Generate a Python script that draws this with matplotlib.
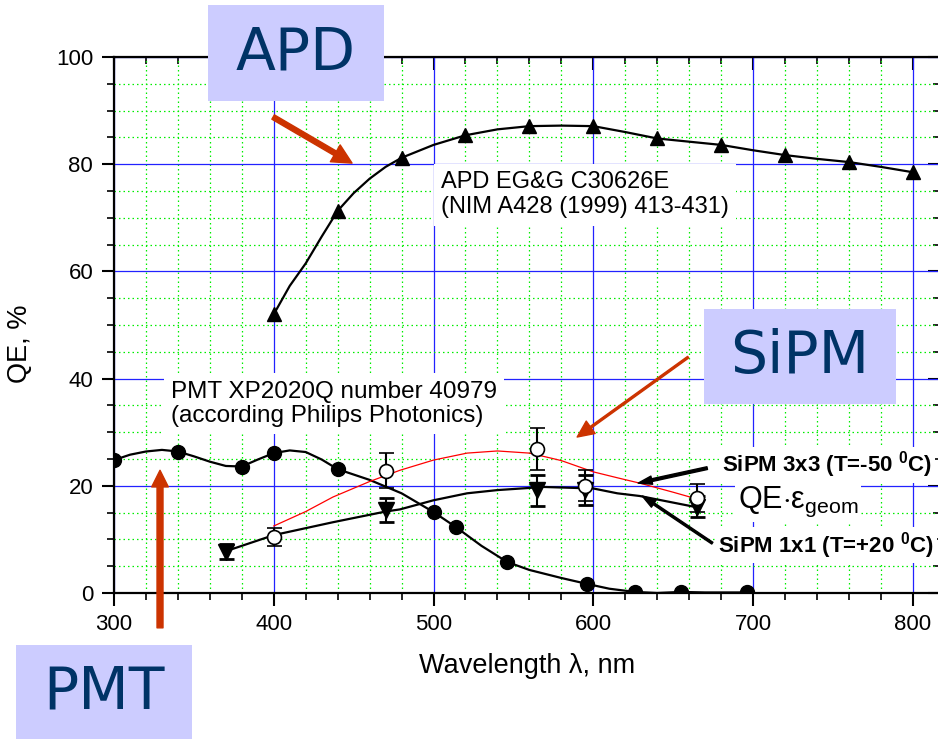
import matplotlib
matplotlib.use("Agg")
import matplotlib.pyplot as plt
from matplotlib.patches import Rectangle
from matplotlib.ticker import MultipleLocator

plt.rcParams["font.family"] = ["Liberation Sans", "DejaVu Sans"]
plt.rcParams["mathtext.fontset"] = "custom"
plt.rcParams["mathtext.rm"] = "Liberation Sans"
plt.rcParams["mathtext.it"] = "Liberation Sans:italic"
plt.rcParams["mathtext.bf"] = "Liberation Sans:bold"

# APD EG&G C30626E
apd_x = [400, 440, 480, 520, 560, 600, 640, 680, 720, 760, 800]
apd_y = [52.0, 71.3, 81.2, 85.4, 87.1, 87.1, 84.8, 83.6, 81.7, 80.4, 78.5]
apd_curve_x = [400, 410, 420, 430, 440, 450, 460, 470, 480, 500, 520, 540, 560,
               580, 600, 620, 640, 660, 680, 700, 720, 740, 760, 780, 800]
apd_curve_y = [52.0, 57.3, 61.5, 66.5, 71.3, 74.6, 77.3, 79.5, 81.2, 83.6, 85.4,
               86.5, 87.1, 87.2, 87.1, 86.0, 84.8, 84.2, 83.6, 82.6, 81.7, 81.0,
               80.4, 79.5, 78.5]

# PMT XP2020Q
pmt_x = [300, 340, 380, 400, 440, 500, 514, 546, 596, 626, 655, 696]
pmt_y = [24.8, 26.3, 23.5, 26.1, 23.1, 15.1, 12.3, 5.8, 1.7, 0.2, 0.2, 0.2]
pmt_curve_x = [300, 310, 320, 330, 340, 350, 360, 370, 380, 390, 400, 410, 420,
               430, 440, 460, 480, 500, 514, 530, 546, 560, 580, 596, 610, 626,
               640, 655, 670, 696]
pmt_curve_y = [24.8, 25.8, 26.4, 26.7, 26.4, 25.5, 24.5, 23.7, 23.6, 24.9, 26.1,
               26.6, 26.3, 24.9, 23.1, 21.1, 18.6, 15.1, 12.3, 8.8, 5.8, 4.3,
               2.8, 1.7, 0.8, 0.2, 0.0, 0.2, 0.1, 0.1]

# SiPM 3x3, T=-50 C
sipm33_x = [400, 470, 565, 595, 665]
sipm33_y = [10.5, 22.8, 26.8, 20.0, 17.7]
sipm33_err = [1.65, 3.3, 3.9, 2.9, 2.6]
sipm33_fit_x = [400, 420, 437, 460, 479, 500, 521, 540, 560, 573, 580, 600,
                615, 629, 650, 663]
sipm33_fit_y = [12.5, 15.2, 17.9, 20.8, 22.9, 24.8, 26.1, 26.5, 26.1, 25.2,
                24.7, 22.6, 21.5, 20.5, 18.8, 17.7]

# SiPM 1x1, T=+20 C
sipm11_x = [370, 470, 565, 595, 665]
sipm11_y = [7.7, 15.5, 19.2, 19.2, 16.1]
sipm11_err = [1.35, 2.3, 2.9, 2.8, 2.0]
sipm11_fit_x = [370, 400, 437, 470, 479, 500, 521, 540, 560, 567, 600, 615,
                629, 663]
sipm11_fit_y = [7.8, 10.8, 13.2, 15.2, 15.6, 17.3, 18.6, 19.2, 19.6, 19.8,
                19.5, 18.6, 18.1, 16.1]

W, H = 938, 739
fig = plt.figure(figsize=(W / 100, H / 100), dpi=100)
ax = fig.add_axes([114 / W, 1 - 593 / H, (940 - 114) / W, (593 - 57) / H])
ax.set_xlim(300, 817)
ax.set_ylim(0, 100)

# grid: blue solid major, green dotted minor
ax.xaxis.set_major_locator(MultipleLocator(100))
ax.xaxis.set_minor_locator(MultipleLocator(20))
ax.yaxis.set_major_locator(MultipleLocator(20))
ax.yaxis.set_minor_locator(MultipleLocator(5))
ax.set_axisbelow(True)
ax.grid(which="minor", color="#00ee00", linestyle=(0, (1.2, 2.4)), linewidth=0.9)
ax.grid(which="major", color="#2222ff", linestyle="-", linewidth=0.9)

for s in ax.spines.values():
    s.set_linewidth(1.6)
ax.tick_params(which="major", direction="out", length=9, width=1.5,
               labelsize=16, pad=6)
ax.tick_params(which="minor", direction="out", length=5, width=1.2)

top = ax.secondary_xaxis("top")
top.xaxis.set_major_locator(MultipleLocator(100))
top.xaxis.set_minor_locator(MultipleLocator(20))
top.tick_params(which="major", direction="in", length=9, width=1.5, labeltop=False)
top.tick_params(which="minor", direction="in", length=5, width=1.2)
right = ax.secondary_yaxis("right")
right.yaxis.set_major_locator(MultipleLocator(20))
right.yaxis.set_minor_locator(MultipleLocator(5))
right.tick_params(which="major", direction="in", length=9, width=1.5, labelright=False)
right.tick_params(which="minor", direction="in", length=5, width=1.2)

ax.set_xlabel("Wavelength λ, nm", fontsize=19.5, labelpad=13)
ax.set_ylabel("QE, %", fontsize=19.5)
ax.yaxis.set_label_coords(-0.098, 0.465)

# curves
ax.plot(apd_curve_x, apd_curve_y, color="black", lw=1.6, zorder=3)
ax.plot(apd_x, apd_y, "^", color="black", ms=10, zorder=4)

ax.plot(pmt_curve_x, pmt_curve_y, color="black", lw=1.6, zorder=3)
ax.plot(pmt_x, pmt_y, "o", color="black", ms=10, zorder=4)

ax.plot(sipm33_fit_x, sipm33_fit_y, color="red", lw=0.9, zorder=3)
ax.plot(sipm11_fit_x, sipm11_fit_y, color="black", lw=1.6, zorder=3)

ax.errorbar(sipm11_x, sipm11_y, yerr=sipm11_err, fmt="v", color="black",
            ms=11, elinewidth=1.5, capsize=5.4, capthick=2, zorder=4)
ax.errorbar(sipm33_x, sipm33_y, yerr=sipm33_err, fmt="o", color="black",
            mfc="white", mec="black", mew=1.2, ms=10, elinewidth=1.5,
            capsize=5.4, capthick=2, zorder=5)

# text labels with white backing
white = dict(facecolor="white", edgecolor="none", boxstyle="square,pad=0.3")
ax.text(504.8, 74.3, "APD EG&G C30626E\n(NIM A428 (1999) 413-431)",
        fontsize=17, ha="left", va="center", linespacing=1.2,
        bbox=white, zorder=6)
ax.text(335.7, 35.3, "PMT XP2020Q number 40979\n(according Philips Photonics)",
        fontsize=17.5, ha="left", va="center", linespacing=1.15,
        bbox=white, zorder=6)
ax.text(680.7, 22.6, r"SiPM 3x3 (T=-50 $^{\mathbf{0}}$C)", fontsize=16,
        fontweight="bold", ha="left", va="baseline",
        bbox=dict(facecolor="white", edgecolor="none", pad=2), zorder=6)
ax.text(690.7, 15.9, r"QE$\cdot$ε$_{\mathrm{geom}}$", fontsize=22,
        ha="left", va="baseline",
        bbox=dict(facecolor="white", edgecolor="none", pad=2), zorder=6)
ax.text(678.2, 7.6, r"SiPM 1x1 (T=+20 $^{\mathbf{0}}$C)", fontsize=16,
        fontweight="bold", ha="left", va="baseline",
        bbox=dict(facecolor="white", edgecolor="none", pad=2), zorder=6)

# pointer arrows
red = "#cc3300"
ax.annotate("", xy=(449, 80.2), xytext=(399.6, 88.8), annotation_clip=False,
            arrowprops=dict(arrowstyle="simple,head_length=1.4,head_width=1.4,tail_width=0.36",
                            color=red, shrinkA=0, shrinkB=0, mutation_scale=10),
            zorder=7)
ax.annotate("", xy=(328.8, 22.9), xytext=(328.8, -6.5), annotation_clip=False,
            arrowprops=dict(arrowstyle="simple,head_length=1.2,head_width=1.2,tail_width=0.43",
                            color=red, shrinkA=0, shrinkB=0, mutation_scale=10),
            zorder=7)
ax.annotate("", xy=(589.9, 29.1), xytext=(659.4, 44.0), annotation_clip=False,
            arrowprops=dict(arrowstyle="simple,head_length=1.2,head_width=1.1,tail_width=0.14",
                            color=red, shrinkA=0, shrinkB=0, mutation_scale=10),
            zorder=7)
ax.annotate("", xy=(628.1, 20.5), xytext=(671.3, 23.3), annotation_clip=False,
            arrowprops=dict(arrowstyle="simple,head_length=1.0,head_width=0.6,tail_width=0.2",
                            color="black", shrinkA=0, shrinkB=0, mutation_scale=10),
            zorder=7)
ax.annotate("", xy=(630.6, 18.1), xytext=(674.5, 9.3), annotation_clip=False,
            arrowprops=dict(arrowstyle="simple,head_length=1.0,head_width=0.6,tail_width=0.15",
                            color="black", shrinkA=0, shrinkB=0, mutation_scale=10),
            zorder=7)


# detector name tags in figure pixel coordinates
def tag(x0, y0, x1, y1, label):
    fig.patches.append(Rectangle((x0 / W, 1 - y1 / H), (x1 - x0) / W, (y1 - y0) / H,
                                 transform=fig.transFigure, facecolor="#ccccff",
                                 edgecolor="none", zorder=10))
    fig.text((x0 + x1) / 2 / W, 1 - (y0 + y1) / 2 / H, label, fontsize=42,
             color="#003366", ha="center", va="center", family="DejaVu Sans",
             zorder=11)


tag(208, 5, 384, 101, "APD")
tag(704, 309, 896, 404, "SiPM")
tag(16, 645, 192, 739, "PMT")

fig.savefig("out.png", dpi=100)
